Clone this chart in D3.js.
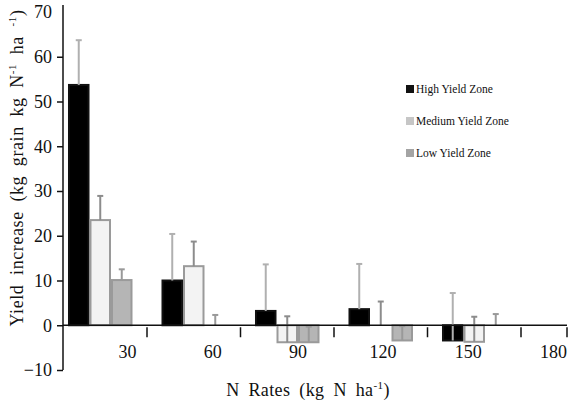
<!DOCTYPE html>
<html><head><meta charset="utf-8">
<script src="https://cdn.jsdelivr.net/npm/d3@7"></script>
<style>body{margin:0;background:#fff}svg{display:block}</style>
</head><body><svg id="c" width="569" height="405"></svg>
<script>
const categories = ["30","60","90","120","150","180"];
const rateTicks = [30,60,90,120,150,180];
const yTicks = [-10,0,10,20,30,40,50,60,70];
const zones = ["High Yield Zone","Medium Yield Zone","Low Yield Zone"];
const highVals = [53.7, 10.0, 3.2, 3.6, -3.4, null];
const highErr  = [10.0, 10.4, 10.4, 10.1, 10.6, null];
const medVals  = [23.5, 13.2, -3.8, 0, -3.7, null];
const medErr   = [5.4, 5.5, 5.8, 5.3, 5.6, null];
const lowVals  = [10.1, 0, -3.8, -3.4, 0, null];
const lowErr   = [2.4, 2.3, 3.5, 3.2, 2.5, null];

const FONT = "Liberation Serif";
const svg = d3.select("#c");
const y = d3.scaleLinear().domain([-10,70]).range([370,12]);
const xb = d3.scaleBand().domain(categories).range([53.5,614.5]).paddingInner(0.31).paddingOuter(0.155);
const xi = d3.scaleBand().domain([0,1,2]).range([0, xb.bandwidth()]);
const xLab = d3.scaleLinear().domain([30,180]).range([127,553]);

const series = [
  {vals:highVals, err:highErr, fill:"#000", stroke:"#111", errC:"#b0b0b0"},
  {vals:medVals, err:medErr, fill:"#f3f3f3", stroke:"#9a9a9a", errC:"#8c8c8c"},
  {vals:lowVals, err:lowErr, fill:"#b5b5b5", stroke:"#9a9a9a", errC:"#999"}
];

const g = svg.append("g");
series.forEach((s,si)=>{
  categories.forEach((c,ci)=>{
    const v = s.vals[ci];
    if (v===null) return;
    const x0 = xb(c) + xi(si);
    const w = xi.bandwidth();
    if (v!==0) {
      g.append("rect").attr("x",x0+1).attr("width",w-2)
        .attr("y",y(Math.max(v,0))).attr("height",Math.abs(y(v)-y(0)))
        .attr("fill",s.fill).attr("stroke",s.stroke).attr("stroke-width",2);
    }
  });
});
series.forEach((s,si)=>{
  categories.forEach((c,ci)=>{
    const v = s.vals[ci];
    if (v===null) return;
    const cx = xb(c) + xi(si) + xi.bandwidth()/2;
    const top = v + s.err[ci];
    g.append("line").attr("x1",cx).attr("x2",cx).attr("y1",y(v)).attr("y2",y(top))
      .attr("stroke",s.errC).attr("stroke-width",2);
    g.append("line").attr("x1",cx-3).attr("x2",cx+3).attr("y1",y(top)).attr("y2",y(top))
      .attr("stroke",s.errC).attr("stroke-width",2);
  });
});

// y axis
const ya = svg.append("g").attr("transform","translate(63,0)")
  .call(d3.axisLeft(y).tickValues(yTicks).tickSize(6).tickPadding(5).tickFormat(d3.format("d")));
ya.attr("font-family",FONT).attr("font-size",18);
ya.select(".domain").attr("d","M0,5V"+y(-10)).attr("stroke","#111").attr("stroke-width",1.5);
ya.selectAll(".tick line").attr("stroke","#111").attr("stroke-width",1.5);
ya.selectAll(".tick text").style("font-size","18px").style("font-family",FONT).attr("fill","#111");
ya.selectAll(".tick").filter(d=>d===70).select("line").remove();

// x axis line at zero
svg.append("line").attr("x1",63).attr("x2",567).attr("y1",y(0)).attr("y2",y(0))
  .attr("stroke","#111").attr("stroke-width",1.5);
const bounds = categories.slice(0,5).map(c=>xb(c)+xb.bandwidth()+xb.step()*xb.paddingInner()/2).concat([567]);
svg.selectAll(".xt").data(bounds).join("line").attr("class","xt")
  .attr("x1",d=>d).attr("x2",d=>d).attr("y1",y(0)+2).attr("y2",y(0)+12)
  .attr("stroke","#111").attr("stroke-width",1.5);
const xa = svg.append("g").attr("transform","translate(0,"+y(0)+")")
  .call(d3.axisBottom(xLab).tickValues(rateTicks).tickSize(0).tickPadding(20).tickFormat(d3.format("d")));
xa.attr("font-family",FONT).attr("font-size",18);
xa.select(".domain").remove();
xa.selectAll(".tick text").style("font-size","18px").style("font-family",FONT).attr("fill","#111");

// axis titles
const xt = svg.append("text").attr("x",308).attr("y",396).attr("text-anchor","middle")
  .style("font-size","18px").style("font-family",FONT).style("word-spacing","4px").style("letter-spacing","0.4px").attr("fill","#111");
xt.append("tspan").text("N Rates (kg N ha");
xt.append("tspan").style("font-size","11px").attr("dy",-7).text("-1");
xt.append("tspan").attr("dy",7).text(")");

const yt = svg.append("text").attr("transform","translate(23,168) rotate(-90)").attr("text-anchor","middle")
  .style("font-size","18px").style("font-family",FONT).style("word-spacing","4.5px").style("letter-spacing","0.6px").attr("fill","#111");
yt.append("tspan").text("Yield increase (kg grain kg N");
yt.append("tspan").style("font-size","11px").attr("dy",-7).text("-1");
yt.append("tspan").attr("dy",7).text(" ha ");
yt.append("tspan").style("font-size","11px").attr("dy",-7).text("-1");
yt.append("tspan").attr("dy",7).text(")");

// legend
const legC = ["#111","#c6c6c6","#a4a4a4"];
const lg = svg.append("g");
zones.forEach((z,i)=>{
  const yy = 89 + i*32;
  lg.append("rect").attr("x",406).attr("y",yy-4).attr("width",8).attr("height",8).attr("fill",legC[i]);
  lg.append("text").attr("x",416).attr("y",yy+4).style("font-size","11.5px").style("font-family",FONT).attr("fill","#111").text(z);
});
</script></body></html>
